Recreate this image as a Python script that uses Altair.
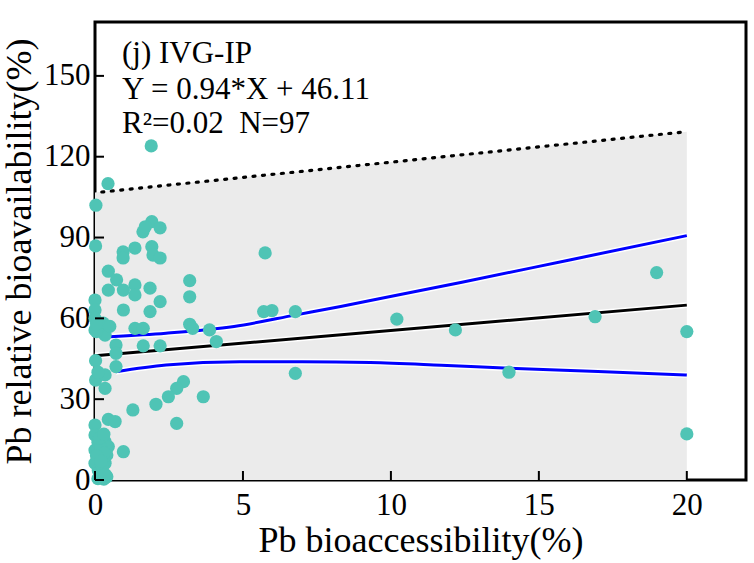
import altair as alt
import pandas as pd

# scatter points (Pb bioaccessibility %, Pb RBA %)
px = [1.9, 0.44, 0.03, 1.92, 1.62, 2.2, 1.92, 1.96, 2.2, 0.95,
      1.35, 0.95, 0.02, 5.75, 0.45, 0.73, 1.35, 0.96, 1.35, 1.86,
      0.45, 0.0, 2.2, 0.0, 0.96, 1.86, 0.0, 0.28, 0.0, 1.35,
      1.63, 3.2, 3.2, 0.34, 1.63, 2.2, 0.71, 0.71, 0.71, 0.02,
      0.02, 0.34, 0.34, 3.2, 3.3, 3.87, 4.1, 5.7, 5.98, 6.77,
      6.77, 2.99, 2.76, 2.48, 2.06, 3.66, 1.28, 2.76, 0.45, 0.68,
      0.0, 0.0, 0.96, 0.34, 0.45, 0.0, 0.23, 0.0, 0.34, 0.11,
      0.4, 0.17, 0.4, 0.17, 10.2, 12.18, 16.9, 13.99, 20.0, 20.0,
      18.98, 0.05, 0.1, 0.2, 0.3, 0.05, 0.25, 0.1, 0.3, 0.2,
      0.15, 0.3, 0.05, 0.5, 0.1, 1.7, 0.35]
py = [124.0, 110.0, 102.0, 95.9, 92.1, 93.6, 86.6, 83.5, 82.4, 84.7,
      86.1, 82.4, 86.9, 84.3, 77.5, 74.3, 72.4, 70.5, 68.7, 71.2,
      70.5, 66.8, 66.2, 63.1, 63.1, 62.5, 60.0, 58.2, 55.7, 56.3,
      56.3, 74.0, 68.0, 53.8, 49.8, 49.8, 50.1, 47.0, 42.1, 44.3,
      37.1, 39.0, 34.0, 57.8, 56.3, 55.7, 51.4, 62.5, 62.9, 62.5,
      39.6, 36.5, 34.0, 30.9, 28.1, 30.9, 26.0, 21.0, 22.5, 21.7,
      20.4, 16.7, 10.5, 14.2, 12.4, 11.1, 8.7, 6.2, 6.2, 3.7,
      1.2, 1.2, 9.3, 3.1, 59.7, 55.7, 60.6, 40.0, 55.1, 17.1,
      77.0, 55.1, 14.0, 12.0, 10.0, 9.0, 5.0, 0.5, 0.3, 7.0,
      15.5, 17.0, 58.0, 57.0, 40.0, 94.0, 2.0]

# fitted line Y = 0.94*X + 46.11
fit_x = [0, 20]
fit_y = [46.11, 64.91]

# 95% confidence band
up_x = [0.5, 2.4, 4.7, 6.8, 8.3, 9.6, 12.4, 16.0, 20.0]
up_y = [53.2, 54.5, 57.0, 61.3, 64.4, 67.3, 73.4, 81.6, 90.7]
lo_x = [0.7, 2.4, 4.9, 7.0, 9.3, 11.7, 14.0, 17.0, 20.0]
lo_y = [40.2, 42.7, 43.9, 43.9, 43.6, 42.6, 41.5, 40.3, 39.0]

# prediction upper bound (dotted) and shaded region
pi_x = [0.23, 20.0]
pi_y = [106.9, 129.3]
area_x = [0.0, 20.0]
area_y = [106.7, 129.3]

x_ticks = [0, 5, 10, 15, 20]
y_ticks = [0, 30, 60, 90, 120, 150]

W, H = 651, 458
FONT = "Liberation Serif"

xs = alt.Scale(domain=[0, 22], nice=False)
ys = alt.Scale(domain=[0, 170], nice=False)

xaxis = alt.Axis(values=x_ticks, title="Pb bioaccessibility(%)", grid=False, domain=False,
                 ticks=False, tickSize=0, labelFont=FONT, labelFontSize=31, labelColor="black",
                 labelPadding=10, titleFont=FONT, titleFontSize=36, titleFontWeight="normal",
                 titleColor="black", titlePadding=3, labelFlush=False)
yaxis = alt.Axis(values=y_ticks, title="Pb relative bioavailability(%)", grid=False, domain=False,
                 ticks=False, tickSize=0, labelFont=FONT, labelFontSize=31, labelColor="black",
                 labelPadding=5, titleFont=FONT, titleFontSize=36, titleFontWeight="normal",
                 titleColor="black", titlePadding=5, labelFlush=False)

area_df = pd.DataFrame({"x": area_x, "y": area_y})
area = alt.Chart(area_df).mark_area(color="#ebebeb", opacity=1).encode(
    x=alt.X("x:Q", scale=xs, axis=xaxis),
    y=alt.Y("y:Q", scale=ys, axis=yaxis),
    y2=alt.datum(0),
)

pi_df = pd.DataFrame({"x": pi_x, "y": pi_y})
dotted = alt.Chart(pi_df).mark_line(color="black", strokeWidth=3.2, strokeDash=[2, 7.5],
                                    strokeCap="round").encode(
    x=alt.X("x:Q", scale=xs), y=alt.Y("y:Q", scale=ys))

fit_df = pd.DataFrame({"x": fit_x, "y": fit_y})
up_df = pd.DataFrame({"x": up_x, "y": up_y})
lo_df = pd.DataFrame({"x": lo_x, "y": lo_y})

def line(df, color, width, interp="monotone"):
    return alt.Chart(df).mark_line(color=color, strokeWidth=width, interpolate=interp).encode(
        x=alt.X("x:Q", scale=xs), y=alt.Y("y:Q", scale=ys))

halo = line(fit_df, "white", 6) + line(up_df, "white", 6) + line(lo_df, "white", 6)
lines = line(fit_df, "black", 3) + line(up_df, "#0000ff", 3) + line(lo_df, "#0000ff", 3)

pts_df = pd.DataFrame({"x": px, "y": py})
points = alt.Chart(pts_df).mark_circle(color="#4fc4b5", opacity=1, size=175).encode(
    x=alt.X("x:Q", scale=xs), y=alt.Y("y:Q", scale=ys))

xt_df = pd.DataFrame({"v": x_ticks})
xtick = alt.Chart(xt_df).mark_rule(color="black", strokeWidth=2).encode(
    x=alt.X("v:Q", scale=xs), y=alt.value(H), y2=alt.value(H - 9))
yt_df = pd.DataFrame({"v": y_ticks})
ytick = alt.Chart(yt_df).mark_rule(color="black", strokeWidth=2).encode(
    y=alt.Y("v:Q", scale=ys), x=alt.value(0), x2=alt.value(9))

labels = ["(j) IVG-IP", "Y = 0.94*X + 46.11", "R\u00b2=0.02\u2002N=97"]
lab_y = [41, 77, 111]
texts = None
for t, yy in zip(labels, lab_y):
    tc = alt.Chart(pd.DataFrame({"t": [t]})).mark_text(
        font=FONT, fontSize=31, align="left", baseline="alphabetic", color="black").encode(
        text="t:N", x=alt.value(27), y=alt.value(yy))
    texts = tc if texts is None else texts + tc

chart = alt.layer(area, dotted, halo, lines, points, xtick, ytick, texts).properties(
    width=W, height=H,
    autosize=alt.AutoSizeParams(type="none"),
    padding={"left": 95, "top": 22, "right": 8, "bottom": 83},
).configure(background="white").configure_view(stroke="black", strokeWidth=3)

chart.save("out.html", embed_options={"renderer": "svg", "actions": False})
